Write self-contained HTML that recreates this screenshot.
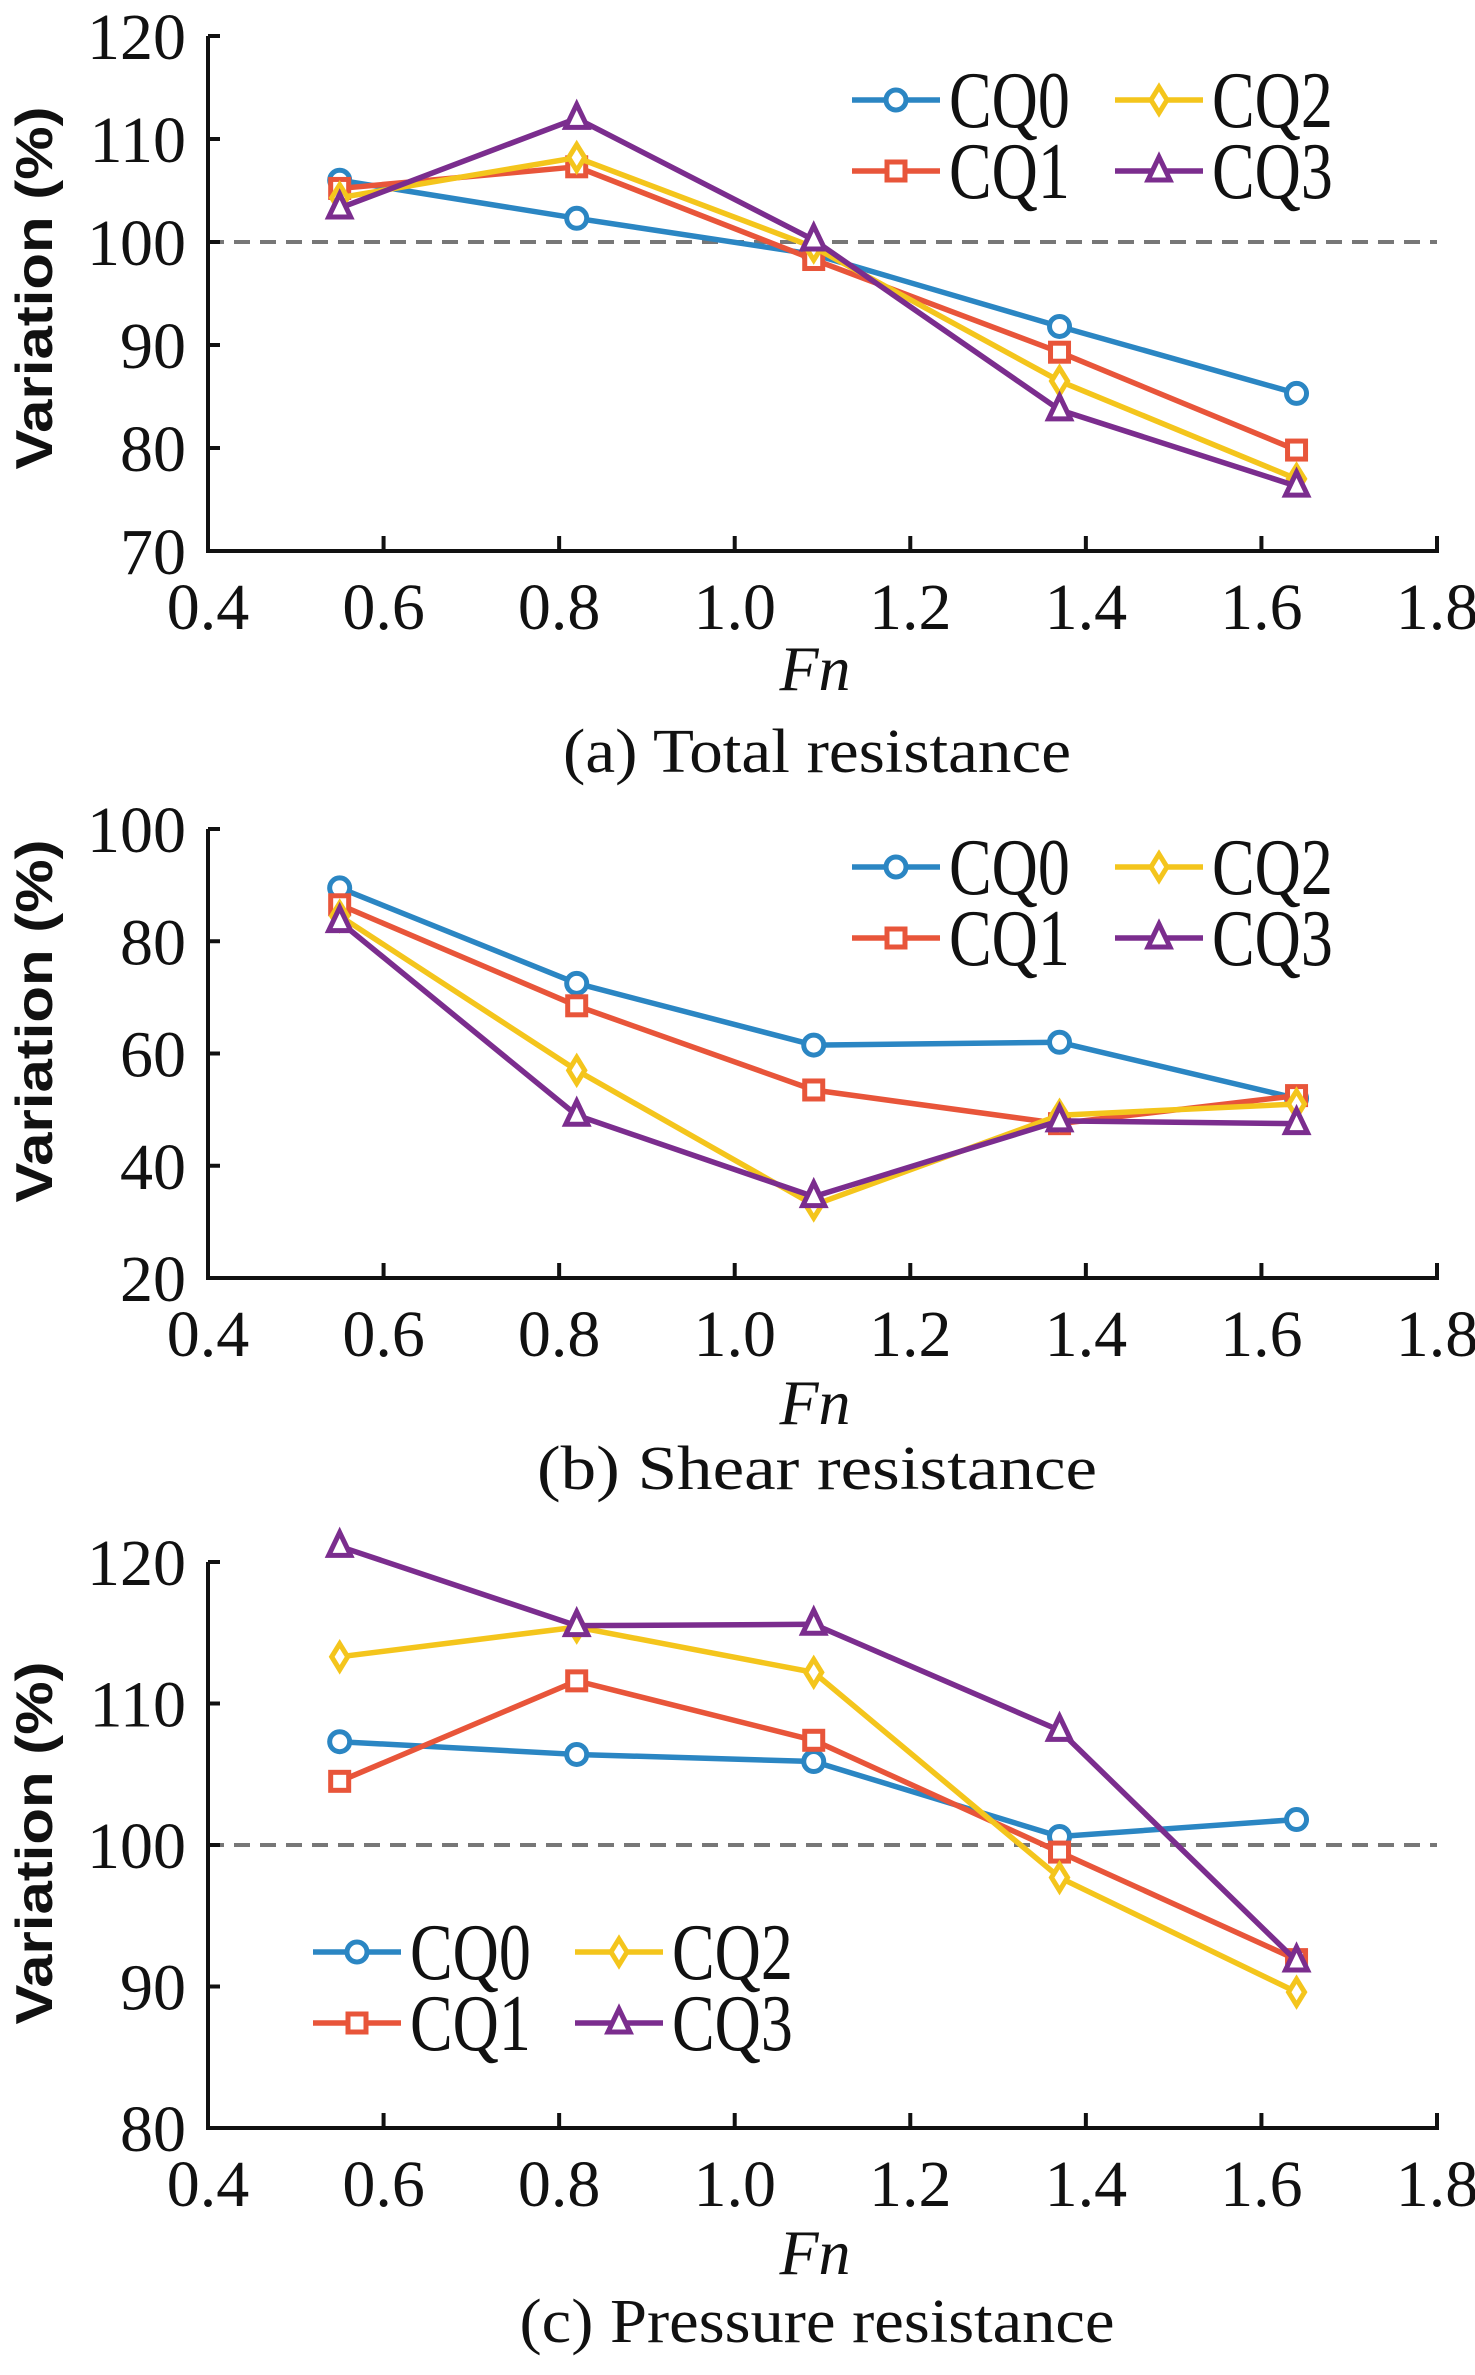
<!DOCTYPE html>
<html><head><meta charset="utf-8"><style>
html,body{margin:0;padding:0;background:#fff}
svg{display:block}
</style></head><body>
<svg id="fig" width="1475" height="2375" viewBox="0 0 1475 2375" xmlns="http://www.w3.org/2000/svg"></svg>
<script>
const fnValues = [0.55, 0.82, 1.09, 1.37, 1.64];
const seriesNames = ["CQ0", "CQ1", "CQ2", "CQ3"];
const xTicks = [0.4, 0.6, 0.8, 1.0, 1.2, 1.4, 1.6, 1.8];
const xTickLabels = ["0.4", "0.6", "0.8", "1.0", "1.2", "1.4", "1.6", "1.8"];

const totalCQ0 = [106, 102.3, 98.8, 91.8, 85.3];
const totalCQ1 = [105.2, 107.3, 98.3, 89.3, 79.8];
const totalCQ2 = [104.3, 108.2, 99.5, 86.5, 77];
const totalCQ3 = [103.3, 112, 100.2, 83.7, 76.3];
const totalYTicks = [70, 80, 90, 100, 110, 120];

const shearCQ0 = [89.5, 72.5, 61.5, 62, 52];
const shearCQ1 = [86.5, 68.5, 53.5, 47.5, 52.5];
const shearCQ2 = [84.5, 57, 33, 49, 51];
const shearCQ3 = [83.5, 49, 34.5, 48, 47.5];
const shearYTicks = [20, 40, 60, 80, 100];

const pressCQ0 = [107.3, 106.4, 105.9, 100.6, 101.8];
const pressCQ1 = [104.5, 111.6, 107.4, 99.5, 91.9];
const pressCQ2 = [113.3, 115.4, 112.2, 97.7, 89.6];
const pressCQ3 = [121.1, 115.5, 115.6, 108.1, 91.8];
const pressYTicks = [80, 90, 100, 110, 120];

const colors = ["#2b86c3", "#e8553a", "#f4c51c", "#7b2d8e"];
const markers = ["circle", "square", "diamond", "triangle"];
const NS = "http://www.w3.org/2000/svg";
const svg = document.getElementById("fig");
function mk(tag, attrs, parent) {
  const e = document.createElementNS(NS, tag);
  for (const k in attrs) e.setAttribute(k, attrs[k]);
  (parent || svg).appendChild(e);
  return e;
}
function marker(g, type, x, y, c) {
  let m;
  if (type === "circle") m = mk("circle", {cx: x, cy: y, r: 10}, g);
  else if (type === "square") m = mk("rect", {x: x - 9, y: y - 9, width: 18, height: 18}, g);
  else if (type === "diamond") m = mk("polygon", {points: `${x},${y-13} ${x+8},${y} ${x},${y+13} ${x-8},${y}`}, g);
  else m = mk("polygon", {points: `${x},${y-14} ${x+11},${y+9} ${x-11},${y+9}`}, g);
  m.setAttribute("fill", "#fff"); m.setAttribute("stroke", c); m.setAttribute("stroke-width", 5);
  return m;
}
function panel(cfg) {
  const L = 208, R = 1437, T = cfg.top, B = cfg.bottom;
  const xs = v => L + (v - 0.4) / 1.4 * (R - L);
  const ys = v => B - (v - cfg.ymin) / (cfg.ymax - cfg.ymin) * (B - T);
  const g = mk("g", {});
  
  
  if (cfg.dash) {
    const d = mk("line", {x1: L, x2: R, y1: ys(100), y2: ys(100), stroke: "#777", "stroke-width": 4, "stroke-dasharray": "16 10"}, g);
    
    
  }
  const ax = mk("path", {d: `M${L},${T} L${L},${B} L${R},${B} L${R},${B-15}`, fill: "none", stroke: "#111", "stroke-width": 4}, g);
  
  
  xTicks.forEach((t, i) => {
    const x = xs(t);
    if (i > 0 && i < xTicks.length - 1) mk("line", {x1: x, x2: x, y1: B, y2: B - 15, stroke: "#111", "stroke-width": 4}, g);
    const tx = mk("text", {x: x, y: B + 78, "text-anchor": "middle", "font-size": 66, "font-family": "Liberation Serif, serif", fill: "#111"}, g);
    tx.textContent = xTickLabels[i];
    
    
  });
  cfg.yticks.forEach(t => {
    const y = ys(t);
    mk("line", {x1: L, x2: L + 12, y1: y, y2: y, stroke: "#111", "stroke-width": 4}, g);
    const tx = mk("text", {x: 186, y: y + 23, "text-anchor": "end", "font-size": 66, "font-family": "Liberation Serif, serif", fill: "#111"}, g);
    tx.textContent = String(t);
    
    
  });
  const yt = mk("text", {transform: `translate(52,${cfg.ytitleY}) rotate(-90)`, "text-anchor": "middle", "font-size": 52, "font-weight": "bold", "font-family": "Liberation Sans, sans-serif", textLength: 363, lengthAdjust: "spacingAndGlyphs", fill: "#111"}, g);
  yt.textContent = "Variation (%)";
  
  
  const xt = mk("text", {x: 815, y: cfg.fnY, "text-anchor": "middle", "font-size": 64, "font-style": "italic", "font-family": "Liberation Serif, serif", fill: "#111"}, g);
  xt.textContent = "Fn";
  
  
  const cap = mk("text", {x: 817, y: cfg.capY, "text-anchor": "middle", "font-size": 62, "font-family": "Liberation Serif, serif", textLength: cfg.capLen, lengthAdjust: "spacingAndGlyphs", fill: "#111"}, g);
  cap.textContent = cfg.caption;
  
  
  cfg.series.forEach((vals, s) => {
    const pts = vals.map((v, i) => `${xs(fnValues[i])},${ys(v)}`).join(" ");
    const ln = mk("polyline", {points: pts, fill: "none", stroke: colors[s], "stroke-width": 5.5, "stroke-linejoin": "round"}, g);
    
    
    vals.forEach((v, i) => {
      const m = marker(g, markers[s], xs(fnValues[i]), ys(v), colors[s]);
      
      
    });
  });
  const lg = mk("g", {}, g);
  
  
  seriesNames.forEach((n, s) => {
    const col = s >> 1, row = s & 1;
    const lx = cfg.legX[col], ly = cfg.legY[row];
    mk("line", {x1: lx, x2: lx + 88, y1: ly, y2: ly, stroke: colors[s], "stroke-width": 5.5}, lg);
    const m = marker(lg, markers[s], lx + 44, ly, colors[s]);
    
    
    const t = mk("text", {transform: `translate(${lx + 97},${ly + 27}) scale(0.8,1)`, "font-size": 80, "font-family": "Liberation Serif, serif", fill: "#111"}, lg);
    t.textContent = n;
    
    
  });
}
panel({name: "panel-total-resistance", top: 36, bottom: 551, ymin: 70, ymax: 120, yticks: totalYTicks, dash: true,
  series: [totalCQ0, totalCQ1, totalCQ2, totalCQ3], ytitleY: 288, fnY: 690, capY: 772, capLen: 508,
  caption: "(a) Total resistance", legX: [852, 1115], legY: [100, 171]});
panel({name: "panel-shear-resistance", top: 829, bottom: 1278, ymin: 20, ymax: 100, yticks: shearYTicks, dash: false,
  series: [shearCQ0, shearCQ1, shearCQ2, shearCQ3], ytitleY: 1021, fnY: 1424, capY: 1489, capLen: 560,
  caption: "(b) Shear resistance", legX: [852, 1115], legY: [867, 938]});
panel({name: "panel-pressure-resistance", top: 1562, bottom: 2128, ymin: 80, ymax: 120, yticks: pressYTicks, dash: true,
  series: [pressCQ0, pressCQ1, pressCQ2, pressCQ3], ytitleY: 1843, fnY: 2274, capY: 2342, capLen: 595,
  caption: "(c) Pressure resistance", legX: [313, 575], legY: [1952, 2023]});
</script>
</body></html>
